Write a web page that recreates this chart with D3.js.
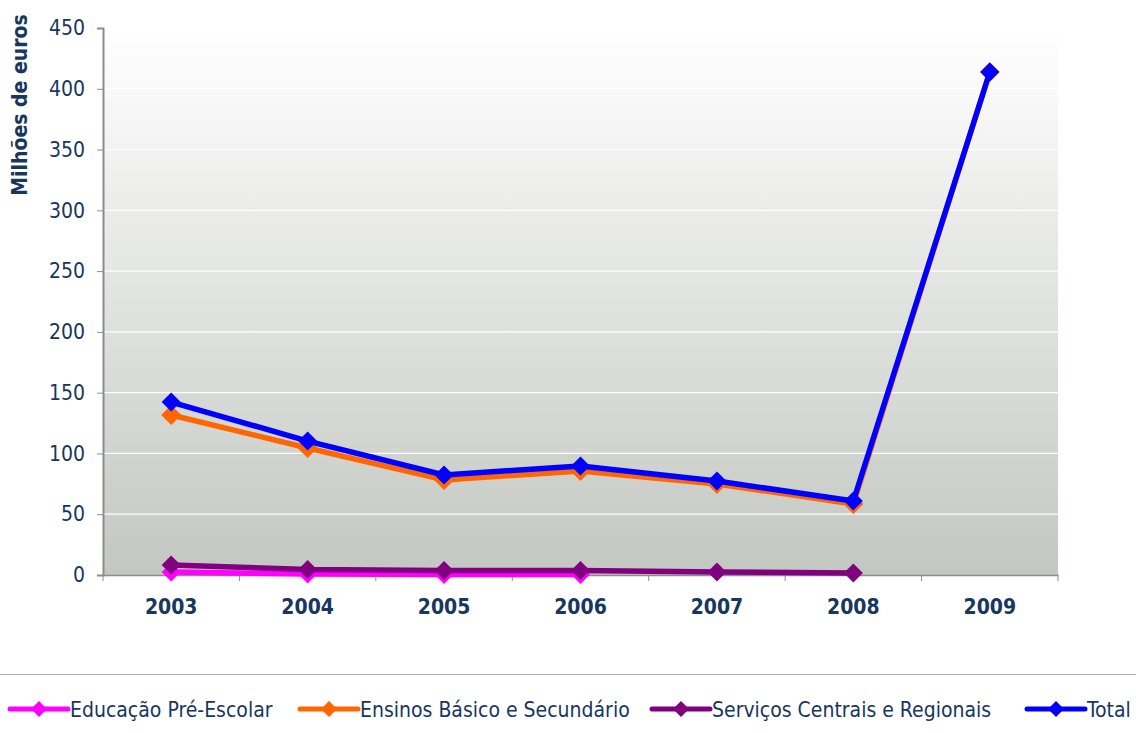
<!DOCTYPE html>
<html>
<head>
<meta charset="utf-8">
<script src="https://cdn.jsdelivr.net/npm/d3@7"></script>
<style>
  body { margin: 0; background: #fff; }
  svg { display: block; }
  text { font-family: "DejaVu Sans Condensed", "DejaVu Sans", sans-serif; fill: #17375e; }
</style>
</head>
<body>
<svg id="chart" width="1136" height="733"></svg>
<script>
const years = ['2003', '2004', '2005', '2006', '2007', '2008', '2009'];
const yTicks = [0, 50, 100, 150, 200, 250, 300, 350, 400, 450];

const educacao = [2.5, 0.8, 0.4, 0.4, null, null, null];
const ensinos = [131.6, 104.5, 78.2, 85.6, 74.9, 58.4, 413.8];
const servicos = [8.2, 4.5, 3.7, 3.7, 2.5, 1.6, null];
const total = [142.3, 110.2, 82.3, 89.7, 77.3, 60.9, 413.8];

const seriesNames = ['Educação Pré-Escolar', 'Ensinos Básico e Secundário', 'Serviços Centrais e Regionais', 'Total'];
const seriesData = [educacao, ensinos, servicos, total];
const colors = ['#ff00ff', '#ff6600', '#800080', '#0000ff'];

const L = 103, R = 1058, T = 28, B = 575;
const FONT = '"DejaVu Sans Condensed", "DejaVu Sans", sans-serif';

const svg = d3.select('#chart');

const defs = svg.append('defs');
const grad = defs.append('linearGradient')
    .attr('id', 'bg')
    .attr('x1', 0).attr('y1', 0).attr('x2', 0).attr('y2', 1);
grad.append('stop').attr('offset', '0%').attr('stop-color', '#ffffff');
grad.append('stop').attr('offset', '100%').attr('stop-color', '#c3c7c1');

const x = d3.scaleBand().domain(years).range([L, R]);
const y = d3.scaleLinear().domain([0, 450]).range([B, T]);

// plot background
svg.append('rect')
    .attr('x', L).attr('y', T)
    .attr('width', R - L).attr('height', B - T)
    .attr('fill', 'url(#bg)');

// gridlines
svg.append('g')
    .selectAll('line')
    .data(yTicks.filter(d => d > 0))
    .enter()
    .append('line')
    .attr('x1', L).attr('x2', R)
    .attr('y1', d => y(d)).attr('y2', d => y(d))
    .attr('stroke', '#ffffff')
    .attr('stroke-width', 1.2);

// y axis
const yAxis = svg.append('g')
    .attr('transform', `translate(${L},0)`)
    .call(d3.axisLeft(y).tickValues(yTicks).tickSize(6).tickPadding(12));
yAxis.select('.domain').attr('stroke', '#8c8c8c').attr('stroke-width', 2);
yAxis.selectAll('.tick line').attr('stroke', '#8c8c8c');
yAxis.selectAll('.tick text')
    .attr('fill', '#17375e')
    .style('font-size', '21px')
    .style('font-family', FONT);

// x axis
const xAxis = svg.append('g')
    .attr('transform', `translate(0,${B})`)
    .call(d3.axisBottom(x).tickSize(0).tickPadding(24));
xAxis.select('.domain').attr('stroke', '#8c8c8c').attr('stroke-width', 1.5);
xAxis.selectAll('.tick text')
    .attr('fill', '#17375e')
    .style('font-size', '21px')
    .style('font-weight', 'bold')
    .style('font-family', FONT);

// x tick marks at band edges
svg.append('g')
    .selectAll('line')
    .data(years.map(d => x(d)).concat([R]))
    .enter()
    .append('line')
    .attr('x1', d => d).attr('x2', d => d)
    .attr('y1', B).attr('y2', B + 6)
    .attr('stroke', '#8c8c8c');

// y axis title
svg.append('text')
    .attr('transform', 'translate(27,105) rotate(-90)')
    .attr('text-anchor', 'middle')
    .style('font-size', '21px')
    .style('font-weight', 'bold')
    .text('Milhões de euros');

const cx = i => x(years[i]) + x.bandwidth() / 2;
const diamond = (px, py, r) => `M${px},${py - r}L${px + r},${py}L${px},${py + r}L${px - r},${py}Z`;

const line = d3.line()
    .defined(d => d.v !== null)
    .x(d => cx(d.i))
    .y(d => y(d.v));

seriesData.forEach((vals, s) => {
    const pts = vals.map((v, i) => ({ v, i }));
    const g = svg.append('g');
    g.append('path')
        .datum(pts)
        .attr('d', line)
        .attr('fill', 'none')
        .attr('stroke', colors[s])
        .attr('stroke-width', 5.5)
        .attr('stroke-linejoin', 'round');
    g.selectAll('path.mk')
        .data(pts.filter(d => d.v !== null))
        .enter()
        .append('path')
        .classed('mk', true)
        .attr('d', d => diamond(cx(d.i), y(d.v), s === 1 ? 10 : 9.5))
        .attr('fill', colors[s]);
});

// legend separator
svg.append('line')
    .attr('x1', 0).attr('x2', 1136)
    .attr('y1', 674.5).attr('y2', 674.5)
    .attr('stroke', '#b0b0b0')
    .attr('stroke-width', 1.2);

const legendX = [10, 300, 652, 1027];
const legend = svg.append('g')
    .selectAll('g')
    .data(seriesNames)
    .enter()
    .append('g')
    .attr('transform', (d, i) => `translate(${legendX[i]},709)`);
legend.append('line')
    .attr('x1', 0).attr('x2', 58)
    .attr('y1', 0).attr('y2', 0)
    .attr('stroke', (d, i) => colors[i])
    .attr('stroke-width', 5)
    .attr('stroke-linecap', 'round');
legend.append('path')
    .attr('d', diamond(29, 0, 8))
    .attr('fill', (d, i) => colors[i]);
legend.append('text')
    .attr('x', 60)
    .attr('y', 8)
    .style('font-size', '21px')
    .text(d => d);
</script>
</body>
</html>
